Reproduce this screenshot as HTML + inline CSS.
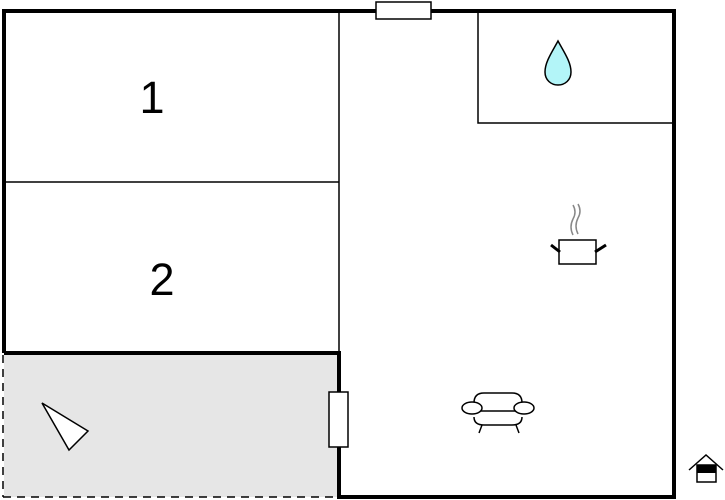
<!DOCTYPE html>
<html><head><meta charset="utf-8"><style>html,body{margin:0;padding:0;background:#fff}svg{display:block}</style></head>
<body>
<svg width="725" height="500" viewBox="0 0 725 500" xmlns="http://www.w3.org/2000/svg">
<rect x="0" y="0" width="725" height="500" fill="#fff"/>
<rect x="4" y="353" width="335" height="144" fill="#e6e6e6"/>
<line x1="339" y1="11" x2="339" y2="353" stroke="#000" stroke-width="1.5"/>
<line x1="4" y1="182" x2="339" y2="182" stroke="#000" stroke-width="1.5"/>
<polyline points="478,11 478,123 674,123" fill="none" stroke="#000" stroke-width="1.5"/>
<polyline points="4,353 4,11 674,11 674,497 339,497 339,353 4,353" fill="none" stroke="#000" stroke-width="4"/>
<line x1="3" y1="355" x2="3" y2="497" stroke="#000" stroke-width="1.5" stroke-dasharray="8,6"/>
<line x1="3" y1="497" x2="339" y2="497" stroke="#000" stroke-width="1.5" stroke-dasharray="8,6"/>
<rect x="376" y="2" width="55" height="17" fill="#fff" stroke="#000" stroke-width="1.5"/>
<rect x="329" y="392" width="19" height="55" fill="#fff" stroke="#000" stroke-width="1.5"/>
<text x="152" y="113" font-family="Liberation Sans, sans-serif" font-size="45" text-anchor="middle">1</text>
<text x="162" y="295" font-family="Liberation Sans, sans-serif" font-size="45" text-anchor="middle">2</text>
<path d="M558,41 C552,52 545,62 545,72 C545,80 551,85 558,85 C565,85 571,80 571,72 C571,62 564,52 558,41 Z" fill="#b3f5f8" stroke="#000" stroke-width="1.5"/>
<polygon points="42,403 88,431 69,450" fill="#fff" stroke="#000" stroke-width="1.5"/>
<path d="M573,235 q-4,-8 0,-16 q4,-7 0,-14 M578,234 q-4,-8 0,-16 q4,-7 0,-14" fill="none" stroke="#888" stroke-width="1.5"/>
<rect x="559" y="240" width="37" height="24" fill="#fff" stroke="#000" stroke-width="1.5"/>
<line x1="551" y1="245" x2="560" y2="252" stroke="#000" stroke-width="3"/>
<line x1="595" y1="252" x2="606" y2="245" stroke="#000" stroke-width="3"/>
<g fill="none" stroke="#000" stroke-width="1.5">
<path d="M474,403 q0,-10 10,-10 h28 q10,0 10,10"/>
<path d="M474,417 q0,8 10,8 h28 q10,0 10,-8"/>
<line x1="476" y1="411" x2="520" y2="411"/>
<ellipse cx="472" cy="408" rx="10" ry="6" fill="#fff"/>
<ellipse cx="524" cy="408" rx="10" ry="6" fill="#fff"/>
<line x1="482" y1="425" x2="479" y2="433"/>
<line x1="516" y1="425" x2="519" y2="433"/>
</g>
<polyline points="689,470 706,455 723,470" fill="none" stroke="#000" stroke-width="1.5"/>
<rect x="697" y="465" width="19" height="17" fill="#fff" stroke="#000" stroke-width="1.5"/>
<rect x="697" y="465" width="19" height="8" fill="#000"/>
</svg>
</body></html>
